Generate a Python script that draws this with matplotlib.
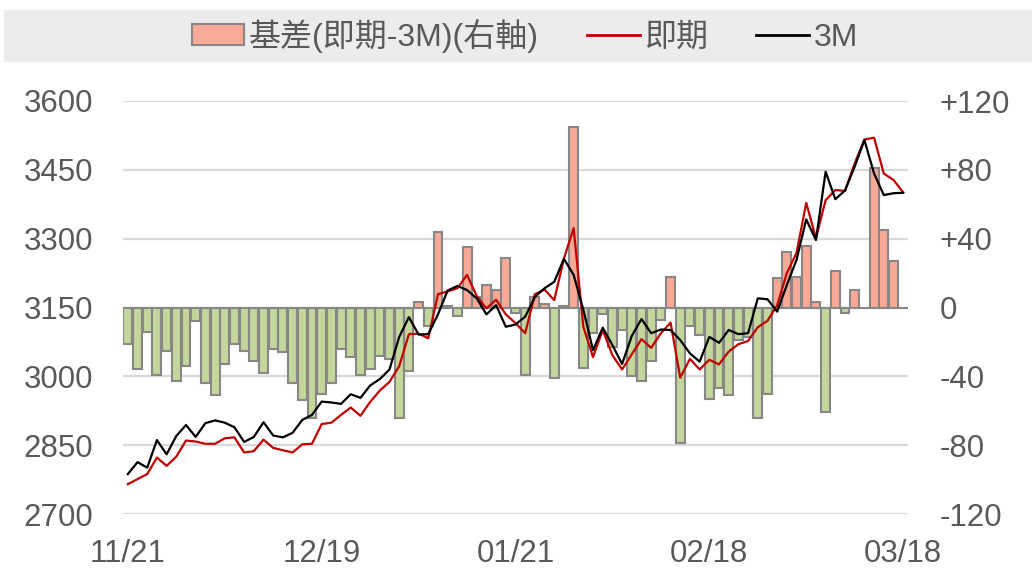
import matplotlib
matplotlib.use("Agg")
import matplotlib.pyplot as plt
from matplotlib.patches import Rectangle, Patch
from matplotlib.lines import Line2D
import numpy as np

plt.rcParams['font.family'] = ['Liberation Sans', 'Noto Sans CJK TC', 'DejaVu Sans']

tick_positions = [0, 20, 40, 60, 80]
tick_labels = ["11/21", "12/19", "01/21", "02/18", "03/18"]

spot = [2765, 2776, 2787, 2823, 2805, 2825, 2860, 2858, 2853, 2853,
        2865, 2867, 2834, 2837, 2862, 2844, 2839, 2834, 2852, 2853,
        2896, 2899, 2916, 2932, 2914, 2944, 2969, 2988, 3022, 3092,
        3093, 3083, 3179, 3185, 3192, 3221, 3175, 3148, 3167, 3135,
        3116, 3094, 3179, 3189, 3166, 3257, 3323, 3108, 3042, 3101,
        3046, 3015, 3048, 3081, 3062, 3094, 3117, 2997, 3038, 3015,
        3036, 3026, 3054, 3070, 3077, 3107, 3121, 3155, 3225, 3269,
        3378, 3301, 3384, 3406, 3404, 3464, 3516, 3520, 3442, 3428,
        3401]

fwd3m = [2787, 2813, 2801, 2861, 2830, 2870, 2894, 2868, 2898, 2904,
         2899, 2889, 2857, 2868, 2900, 2871, 2867, 2877, 2905, 2916,
         2945, 2943, 2940, 2961, 2953, 2980, 2994, 3015, 3086, 3129,
         3091, 3092, 3135, 3187, 3197, 3188, 3170, 3135, 3155, 3108,
         3113, 3130, 3173, 3192, 3206, 3256, 3221, 3145, 3057, 3106,
         3068, 3027, 3088, 3125, 3094, 3102, 3101, 3079, 3050, 3032,
         3086, 3073, 3101, 3092, 3094, 3170, 3168, 3141, 3199, 3254,
         3342, 3297, 3446, 3386, 3405, 3457, 3515, 3442, 3395, 3399,
         3400]

basis = [-21, -36, -14, -39, -25, -43, -34, -8, -44, -51,
         -33, -21, -25, -31, -38, -24, -26, -44, -54, -64,
         -50, -44, -24, -29, -39, -36, -28, -30, -64, -37,
         3, -11, 44, 1, -5, 35, 6, 13, 10, 29,
         -3, -39, 6, 2, -41, 1, 105, -35, -15, -4,
         -23, -13, -40, -43, -31, -7, 18, -79, -11, -16,
         -53, -47, -51, -19, -17, -64, -50, 17, 32, 18,
         36, 3, -61, 21, -3, 10, 0, 81, 45, 27,
         0]

left_ticks = [2700, 2850, 3000, 3150, 3300, 3450, 3600]
right_ticks = [-120, -80, -40, 0, 40, 80, 120]
right_labels = ["-120", "-80", "-40", "0", "+40", "+80", "+120"]

W, H = 1036, 569
fig = plt.figure(figsize=(W / 100, H / 100), dpi=100)
fig.patches.append(Rectangle((4 / W, 1 - 62 / H), 1028 / W, 52 / H,
                             transform=fig.transFigure, facecolor="#ececec",
                             edgecolor="none", zorder=0))

ax = fig.add_axes([123 / W, 1 - 514 / H, 785 / W, 413 / H])
ax2 = ax.twinx()

x = np.arange(len(spot))
pos_col = "#f8aa96"
neg_col = "#c3d69b"
colors = [pos_col if b >= 0 else neg_col for b in basis]
ax2.bar(x, basis, width=0.92, color=colors, edgecolor="#878787", linewidth=1.5, zorder=2)
ax2.set_ylim(-120, 120)
ax2.set_yticks(right_ticks)
ax2.set_yticklabels(right_labels)
ax2.grid(axis="y", color="#d9d9d9", linewidth=1.6, zorder=0)
ax2.set_axisbelow(True)

ax.set_zorder(ax2.get_zorder() + 1)
ax.patch.set_visible(False)
ax.plot(x, spot, color="#c00000", linewidth=1.6, zorder=3)
ax.plot(x, fwd3m, color="#000000", linewidth=1.6, zorder=4)
ax.set_ylim(2700, 3600)
ax.set_yticks(left_ticks)
ax.set_xlim(-0.5, len(spot) - 0.5)
ax.set_xticks(tick_positions)
ax.set_xticklabels(tick_labels)

for a in (ax, ax2):
    for s in a.spines.values():
        s.set_visible(False)
    a.tick_params(axis="both", length=0, labelsize=22.5, colors="#595959")
ax.tick_params(axis="y", pad=21.5)
ax2.tick_params(axis="y", pad=23)
ax.tick_params(axis="x", pad=18)

handles = [Patch(facecolor=pos_col, edgecolor="#878787", linewidth=1.5),
           Line2D([], [], color="#c00000", linewidth=2),
           Line2D([], [], color="#000000", linewidth=2)]
labels = ["基差(即期-3M)(右軸)", "即期", "3M"]
leg = fig.legend(handles, labels, loc="center", bbox_to_anchor=(525 / W, 1 - 36 / H),
                 ncol=3, frameon=False, fontsize=23, handlelength=1.65,
                 handleheight=0.65, handletextpad=0.15, columnspacing=1.5,
                 labelcolor="#595959")

fig.savefig("out.png", dpi=100)
